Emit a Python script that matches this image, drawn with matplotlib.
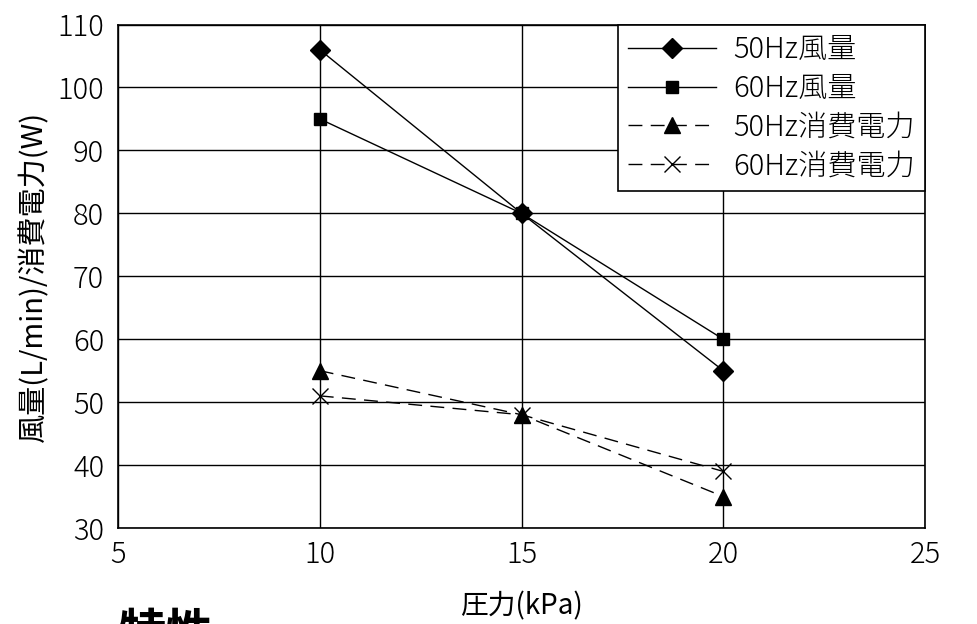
import matplotlib
matplotlib.use("Agg")
import matplotlib.pyplot as plt

# data
pressure = [10, 15, 20]
flow_50hz = [106, 80, 55]
flow_60hz = [95, 80, 60]
power_50hz = [55, 48, 35]
power_60hz = [51, 48, 39]

x_ticks = [5, 10, 15, 20, 25]
y_ticks = [30, 40, 50, 60, 70, 80, 90, 100, 110]

plt.rcParams['font.family'] = ['Noto Sans CJK JP', 'DejaVu Sans']
plt.rcParams['font.weight'] = 'light'

fig = plt.figure(figsize=(9.77, 6.24), dpi=100)
ax = fig.add_axes([0.1208, 0.1538, 0.8260, 0.8069])

dash = (0, (10, 6))
ax.plot(pressure, flow_50hz, color='black', lw=1, marker='D', ms=10, label='50Hz風量')
ax.plot(pressure, flow_60hz, color='black', lw=1, marker='s', ms=9, label='60Hz風量')
ax.plot(pressure, power_50hz, color='black', lw=1, ls=dash, marker='^', ms=11,
        label='50Hz消費電力')
ax.plot(pressure, power_60hz, color='black', lw=1, ls=dash, marker='x', ms=11,
        mew=1, label='60Hz消費電力')

ax.set_xlim(5, 25)
ax.set_ylim(30, 110)
ax.set_xticks(x_ticks)
ax.set_yticks(y_ticks)
ax.grid(True, color='black', lw=1)
ax.tick_params(axis='y', length=0, labelsize=21, pad=10)
ax.tick_params(axis='x', length=0, labelsize=21, pad=8)
for s in ax.spines.values():
    s.set_linewidth(1.2)

ax.set_xlabel('圧力(kPa)', fontsize=20, labelpad=16)
ax.set_ylabel('風量(L/min)/消費電力(W)', fontsize=21, labelpad=6)

leg = ax.legend(loc='upper right', borderaxespad=0, fontsize=21, fancybox=False,
                framealpha=1, edgecolor='black', handlelength=3.0, labelspacing=0.28,
                borderpad=0.35, handletextpad=0.6)
leg.get_frame().set_linewidth(1.2)

fig.text(0.121, 0.0224, '特性', fontsize=34, fontweight='bold', va='top', ha='left',
         family=['Noto Sans CJK JP'])

fig.savefig('out.png', dpi=100)
